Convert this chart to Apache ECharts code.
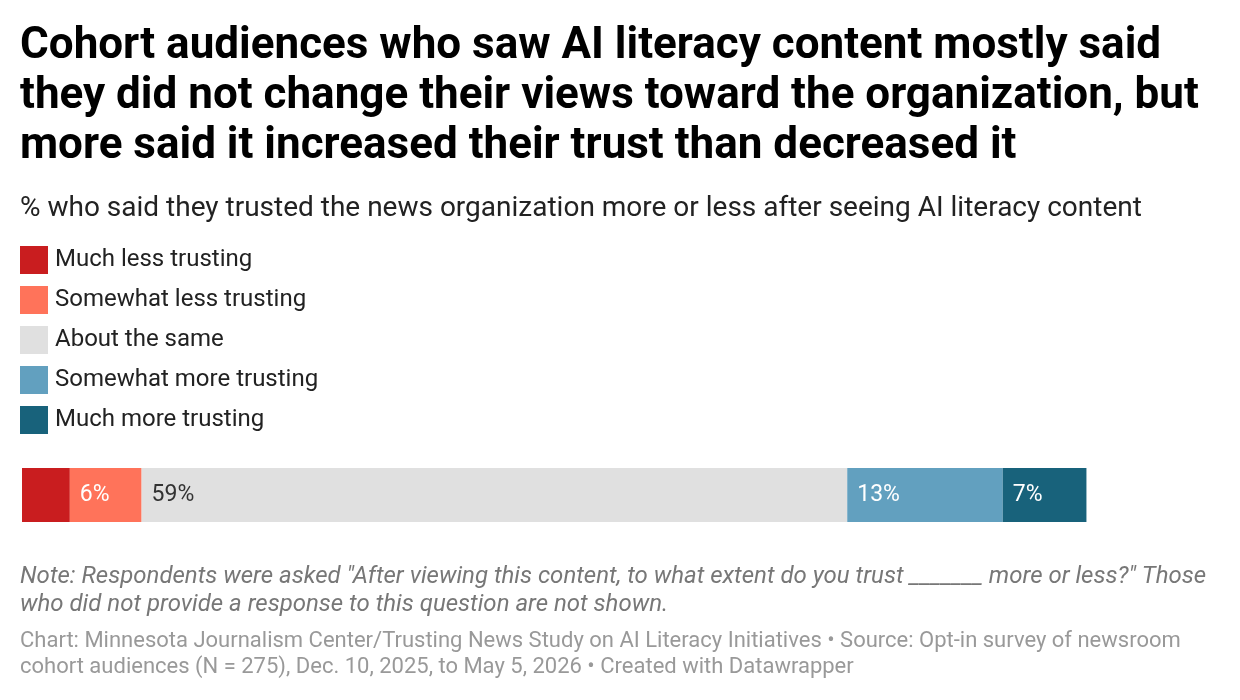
<!DOCTYPE html>
<html>
<head>
<meta charset="utf-8">
<script src="https://cdn.jsdelivr.net/npm/echarts@6/dist/echarts.min.js"></script>
<style>
html,body{margin:0;padding:0;background:#fff;}
#chart{width:1240px;height:700px;}
</style>
</head>
<body>
<div id="chart"></div>
<script>
const categories = ["All"];
const seriesNames = ["Much less trusting","Somewhat less trusting","About the same","Somewhat more trusting","Much more trusting"];
const muchLess = [4];
const somewhatLess = [6];
const aboutSame = [59];
const somewhatMore = [13];
const muchMore = [7];
const seriesValues = [muchLess, somewhatLess, aboutSame, somewhatMore, muchMore];
const colors = ["#c91d1f","#ff735a","#e0e0e0","#62a0bf","#18627b"];
const labelColors = ["#ffffff","#ffffff","#333333","#ffffff","#ffffff"];
const showLabel = [false,true,true,true,true];

const titleText = "Cohort audiences who saw AI literacy content mostly said\nthey did not change their views toward the organization, but\nmore said it increased their trust than decreased it";
const subtitleText = "% who said they trusted the news organization more or less after seeing AI literacy content";
const noteText = "Note: Respondents were asked \"After viewing this content, to what extent do you trust _______ more or less?\" Those\nwho did not provide a response to this question are not shown.";
const sourceText = "Chart: Minnesota Journalism Center/Trusting News Study on AI Literacy Initiatives • Source: Opt-in survey of newsroom\ncohort audiences (N = 275), Dec. 10, 2025, to May 5, 2026 • Created with Datawrapper";

const chart = echarts.init(document.getElementById('chart'));
const series = seriesNames.map((name, i) => ({
  name: name,
  type: 'bar',
  stack: 'total',
  barWidth: 54,
  data: seriesValues[i],
  itemStyle: { color: colors[i] },
  emphasis: { disabled: true },
  label: {
    show: showLabel[i],
    position: 'insideLeft',
    distance: 10,
    color: labelColors[i],
    fontFamily: 'Roboto',
    fontSize: 23,
    formatter: p => p.value + '%'
  }
}));

chart.setOption({
  animation: false,
  color: colors,
  legend: {
    orient: 'vertical',
    left: 20,
    top: 246,
    padding: 0,
    itemWidth: 28,
    itemHeight: 28,
    itemGap: 12,
    icon: 'rect',
    selectedMode: false,
    textStyle: { fontFamily: 'Roboto', fontSize: 24, color: '#222', padding: [3,0,0,2] },
    data: seriesNames
  },
  grid: { left: 22, right: 22, top: 468, height: 54 },
  xAxis: { type: 'value', min: 0, max: 100, show: false },
  yAxis: { type: 'category', data: categories, show: false },
  series: series,
  graphic: [
    { type: 'text', left: 20, top: 22, style: { text: titleText, fontFamily: 'Roboto', fontWeight: 'bold', fontSize: 44, lineHeight: 50, fill: '#000' } },
    { type: 'text', left: 20, top: 194, style: { text: subtitleText, fontFamily: 'Roboto', fontSize: 28, lineHeight: 30, fill: '#222' } },
    { type: 'text', left: 20, top: 563, style: { text: noteText, fontFamily: 'Roboto', fontStyle: 'italic', fontSize: 24, lineHeight: 28, fill: '#777' } },
    { type: 'text', left: 20, top: 628, style: { text: sourceText, fontFamily: 'Roboto', fontSize: 22, lineHeight: 26, fill: '#999' } }
  ]
});
</script>
</body>
</html>
